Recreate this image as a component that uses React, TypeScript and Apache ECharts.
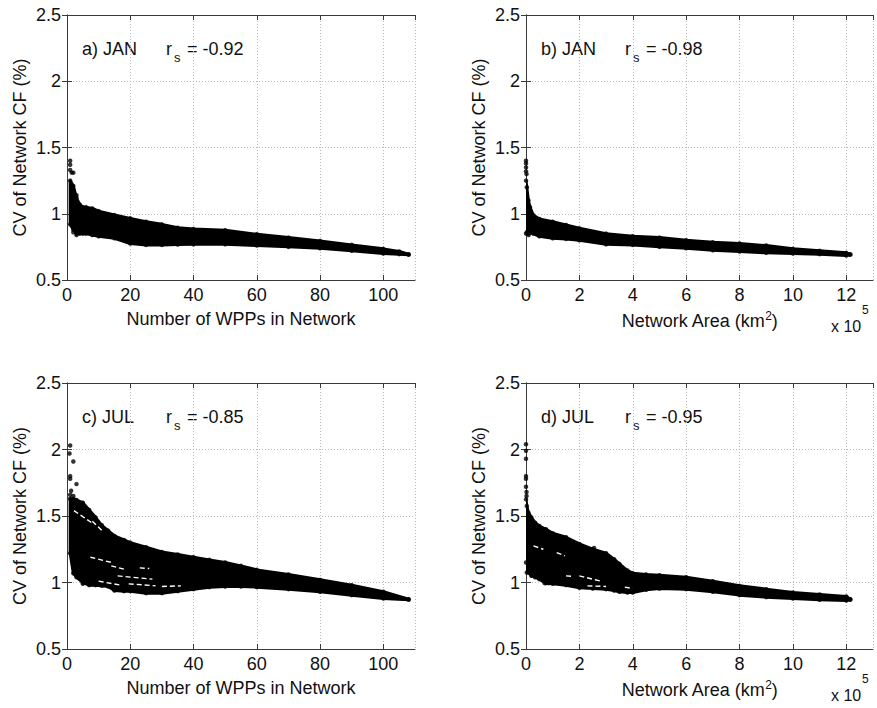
import React, { useEffect, useRef } from "react";
import * as echarts from "echarts";

// ---------- data ----------
// a) JAN, CV vs number of WPPs
const janWppX = [1, 2, 3, 4, 5, 6, 8, 10, 15, 20, 25, 30, 35, 40, 50, 60, 70, 80, 90, 100, 105, 108];
const janWppUpper = [1.25, 1.21, 1.12, 1.07, 1.05, 1.05, 1.04, 1.02, 0.99, 0.965, 0.94, 0.92, 0.895, 0.885, 0.875, 0.845, 0.82, 0.795, 0.765, 0.735, 0.715, 0.695];
const janWppLower = [0.92, 0.88, 0.85, 0.85, 0.85, 0.85, 0.84, 0.83, 0.815, 0.775, 0.765, 0.765, 0.768, 0.77, 0.77, 0.76, 0.75, 0.74, 0.72, 0.7, 0.695, 0.69];
const janWppOutliers = [[1, 1.4], [1, 1.37], [1, 1.33], [1.5, 1.31], [2, 1.31], [3, 1.14], [2, 0.86], [3, 0.84]];
const janWppGaps: number[][][] = [];

// b) JAN, CV vs network area (x 10^5 km2)
const janAreaX = [0, 0.03, 0.09, 0.15, 0.27, 0.5, 1, 1.5, 2, 3, 4, 5, 6, 7, 8, 9, 10, 11, 12, 12.15];
const janAreaUpper = [1.25, 1.2, 1.1, 1.05, 0.99, 0.96, 0.94, 0.915, 0.89, 0.85, 0.83, 0.82, 0.8, 0.785, 0.775, 0.76, 0.735, 0.72, 0.705, 0.695];
const janAreaLower = [0.85, 0.86, 0.85, 0.86, 0.85, 0.83, 0.815, 0.81, 0.8, 0.77, 0.765, 0.75, 0.74, 0.725, 0.715, 0.705, 0.7, 0.695, 0.685, 0.69];
const janAreaOutliers = [[0, 1.4], [0, 1.38], [0, 1.35], [0, 1.32], [0.02, 1.3], [0.15, 0.88], [0.1, 0.84]];
const janAreaGaps: number[][][] = [];

// c) JUL, CV vs number of WPPs
const julWppX = [1, 2, 3, 5, 7, 9, 11, 13, 15, 18, 20, 25, 30, 35, 40, 45, 50, 55, 60, 70, 80, 90, 100, 108];
const julWppUpper = [1.63, 1.63, 1.62, 1.6, 1.545, 1.49, 1.43, 1.39, 1.35, 1.32, 1.3, 1.265, 1.23, 1.21, 1.19, 1.17, 1.15, 1.125, 1.095, 1.06, 1.02, 0.98, 0.93, 0.875];
const julWppLower = [1.22, 1.07, 1.04, 1.0, 0.98, 0.98, 0.975, 0.97, 0.94, 0.935, 0.935, 0.92, 0.92, 0.935, 0.95, 0.965, 0.97, 0.97, 0.965, 0.95, 0.93, 0.905, 0.88, 0.87];
const julWppOutliers = [[1, 2.03], [0.8, 1.97], [2, 1.91], [1, 1.8], [1, 1.78], [3, 1.74], [1.3, 1.69], [1, 1.66], [2, 1.65], [5, 0.99]];
// visible white streaks inside the July cloud
const julWppGaps = [
  [[2.2, 1.54], [8.4, 1.44]],
  [[8, 1.46], [11.5, 1.38]],
  [[7.4, 1.19], [14.2, 1.15]],
  [[14, 1.125], [18, 1.1]],
  [[16, 1.05], [27, 1.025]],
  [[23, 1.11], [26, 1.105]],
  [[19.5, 0.99], [28, 0.975]],
  [[10, 1.01], [17, 0.98]],
  [[30, 0.97], [36, 0.975]],
];

// d) JUL, CV vs network area (x 10^5 km2)
const julAreaX = [0, 0.03, 0.09, 0.2, 0.34, 0.5, 0.75, 1, 1.5, 2, 2.5, 3, 3.3, 3.5, 3.8, 4, 4.5, 5, 6, 7, 8, 9, 10, 11, 12, 12.15];
const julAreaUpper = [1.625, 1.575, 1.525, 1.49, 1.45, 1.425, 1.4, 1.37, 1.34, 1.29, 1.25, 1.22, 1.175, 1.14, 1.09, 1.07, 1.06, 1.055, 1.04, 1.01, 0.975, 0.95, 0.925, 0.91, 0.895, 0.875];
const julAreaLower = [1.15, 1.075, 1.075, 1.05, 1.04, 1.025, 0.995, 0.99, 0.98, 0.96, 0.955, 0.95, 0.94, 0.93, 0.925, 0.925, 0.945, 0.955, 0.95, 0.93, 0.905, 0.89, 0.88, 0.87, 0.865, 0.87];
const julAreaOutliers = [[0, 2.04], [0, 1.99], [0, 1.93], [0, 1.8], [0, 1.78], [0, 1.72], [0.02, 1.68], [0.02, 1.65], [2.55, 1.26], [0.7, 0.995], [0.85, 0.995]];
const julAreaGaps = [
  [[0.28, 1.275], [0.65, 1.25]],
  [[1.15, 1.225], [1.46, 1.2]],
  [[2.0, 1.05], [2.8, 1.01]],
  [[2.3, 0.975], [3.0, 0.97]],
  [[3.7, 0.965], [4.0, 0.955]],
  [[1.5, 1.05], [1.8, 1.045]],
];

const panelLabels = ["a) JAN", "b) JAN", "c) JUL", "d) JUL"];
const rsValues = ["-0.92", "-0.98", "-0.85", "-0.95"];
const wppTitle = "Number of WPPs in Network";
const yTitle = "CV of Network CF (%)";

// ---------- layout ----------
const FONT = "'Liberation Sans', Arial, Helvetica, sans-serif";
const grids = [
  { left: 67, top: 15, width: 348, height: 265 },
  { left: 526, top: 15, width: 347, height: 265 },
  { left: 67, top: 383, width: 348, height: 266 },
  { left: 526, top: 383, width: 347, height: 266 },
];
const xRanges = [
  { min: 0, max: 110, interval: 20 },
  { min: 0, max: 13, interval: 2 },
  { min: 0, max: 110, interval: 20 },
  { min: 0, max: 13, interval: 2 },
];

const panels = [
  { xs: janWppX, up: janWppUpper, lo: janWppLower, out: janWppOutliers, gaps: janWppGaps },
  { xs: janAreaX, up: janAreaUpper, lo: janAreaLower, out: janAreaOutliers, gaps: janAreaGaps },
  { xs: julWppX, up: julWppUpper, lo: julWppLower, out: julWppOutliers, gaps: julWppGaps },
  { xs: julAreaX, up: julAreaUpper, lo: julAreaLower, out: julAreaOutliers, gaps: julAreaGaps },
];

function buildOption() {
  const xAxis: any[] = [];
  const yAxis: any[] = [];
  const series: any[] = [];
  const graphic: any[] = [];
  const axisLine = { show: true, lineStyle: { color: "#3a3a3a", width: 1 } };
  const tick = { show: true, inside: true, length: 5, lineStyle: { color: "#3a3a3a" } };
  const split = { show: true, lineStyle: { type: [1, 2], color: "#b8b8b8", width: 1 } };
  const label = { fontFamily: FONT, fontSize: 18, color: "#111" };

  grids.forEach((g, i) => {
    const isArea = i % 2 === 1;
    xAxis.push({
      type: "value", gridIndex: i, position: "bottom", ...xRanges[i],
      axisLine, axisTick: tick, splitLine: split,
      axisLabel: { ...label, margin: 6, showMaxLabel: false },
      name: isArea ? "Network Area (km{sup|2})" : wppTitle,
      nameLocation: "middle", nameGap: 30,
      nameTextStyle: {
        fontFamily: FONT, fontSize: 18, color: "#111",
        rich: { sup: { fontFamily: FONT, fontSize: 12, color: "#111", verticalAlign: "top", padding: [0, 0, 10, 0] } },
      },
    });
    yAxis.push({
      type: "value", gridIndex: i, position: "left", min: 0.5, max: 2.5, interval: 0.5,
      axisLine, axisTick: tick, splitLine: split,
      axisLabel: { ...label, margin: 6 },
      name: yTitle, nameLocation: "middle", nameGap: 38,
      nameTextStyle: { fontFamily: FONT, fontSize: 18, color: "#111" },
    });
  });
  // mirrored box axes (top / right)
  grids.forEach((g, i) => {
    xAxis.push({
      type: "value", gridIndex: i, position: "top", ...xRanges[i],
      axisLine, axisTick: tick, splitLine: { show: false }, axisLabel: { show: false },
    });
    yAxis.push({
      type: "value", gridIndex: i, position: "right", min: 0.5, max: 2.5, interval: 0.5,
      axisLine, axisTick: tick, splitLine: { show: false }, axisLabel: { show: false },
    });
  });

  panels.forEach((p, i) => {
    series.push({
      type: "custom", xAxisIndex: i, yAxisIndex: i, silent: true, clip: true, z: 3,
      data: [[p.xs[0], p.lo[0]]],
      renderItem: (params: any, api: any) => {
        const pts: number[][] = [];
        for (let k = 0; k < p.xs.length; k++) pts.push(api.coord([p.xs[k], p.up[k]]));
        for (let k = p.xs.length - 1; k >= 0; k--) pts.push(api.coord([p.xs[k], p.lo[k]]));
        return { type: "polygon", shape: { points: pts }, style: { fill: "#000", stroke: "#000", lineWidth: 3, lineJoin: "round" } };
      },
    });
    const pts: number[][] = [];
    p.xs.forEach((x, k) => { pts.push([x, p.up[k]]); pts.push([x, p.lo[k]]); });
    p.out.forEach((o) => pts.push(o));
    series.push({
      type: "scatter", xAxisIndex: i, yAxisIndex: i, data: pts, symbol: "circle", symbolSize: 4.5,
      itemStyle: { color: "#000" }, silent: true, z: 4,
    });
    p.gaps.forEach((seg) => {
      series.push({
        type: "line", xAxisIndex: i, yAxisIndex: i, data: seg, symbol: "none", silent: true, z: 5,
        lineStyle: { color: "#fff", width: 1.4, type: [5, 3] },
      });
    });
    const g = grids[i];
    const tx = g.left;
    const ty = g.top;
    graphic.push({ type: "text", left: tx + 15, top: ty + 25, style: { text: panelLabels[i], font: `18px ${FONT}`, fill: "#111" } });
    graphic.push({ type: "text", left: tx + 99, top: ty + 25, style: { text: "r", font: `18px ${FONT}`, fill: "#111" } });
    graphic.push({ type: "text", left: tx + 107, top: ty + 36, style: { text: "s", font: `13px ${FONT}`, fill: "#111" } });
    graphic.push({ type: "text", left: tx + 120, top: ty + 25, style: { text: "= " + rsValues[i], font: `18px ${FONT}`, fill: "#111" } });
    if (i % 2 === 1) {
      const by = g.top + g.height;
      graphic.push({ type: "text", left: 831, top: by + 38, style: { text: "x 10", font: `16px ${FONT}`, fill: "#111" } });
      graphic.push({ type: "text", left: 862, top: by + 24, style: { text: "5", font: `12px ${FONT}`, fill: "#111" } });
    }
  });

  return {
    animation: false,
    backgroundColor: "#fff",
    grid: grids.map((g) => ({ ...g, containLabel: false })),
    xAxis, yAxis, series, graphic,
  };
}

export default function App() {
  const ref = useRef<HTMLDivElement>(null);
  useEffect(() => {
    if (!ref.current) return;
    const chart = echarts.init(ref.current, undefined, { renderer: "svg" });
    chart.setOption(buildOption() as any);
    return () => chart.dispose();
  }, []);
  return <div ref={ref} style={{ position: "absolute", left: 0, top: 0, width: 877, height: 708, background: "#fff" }} />;
}
